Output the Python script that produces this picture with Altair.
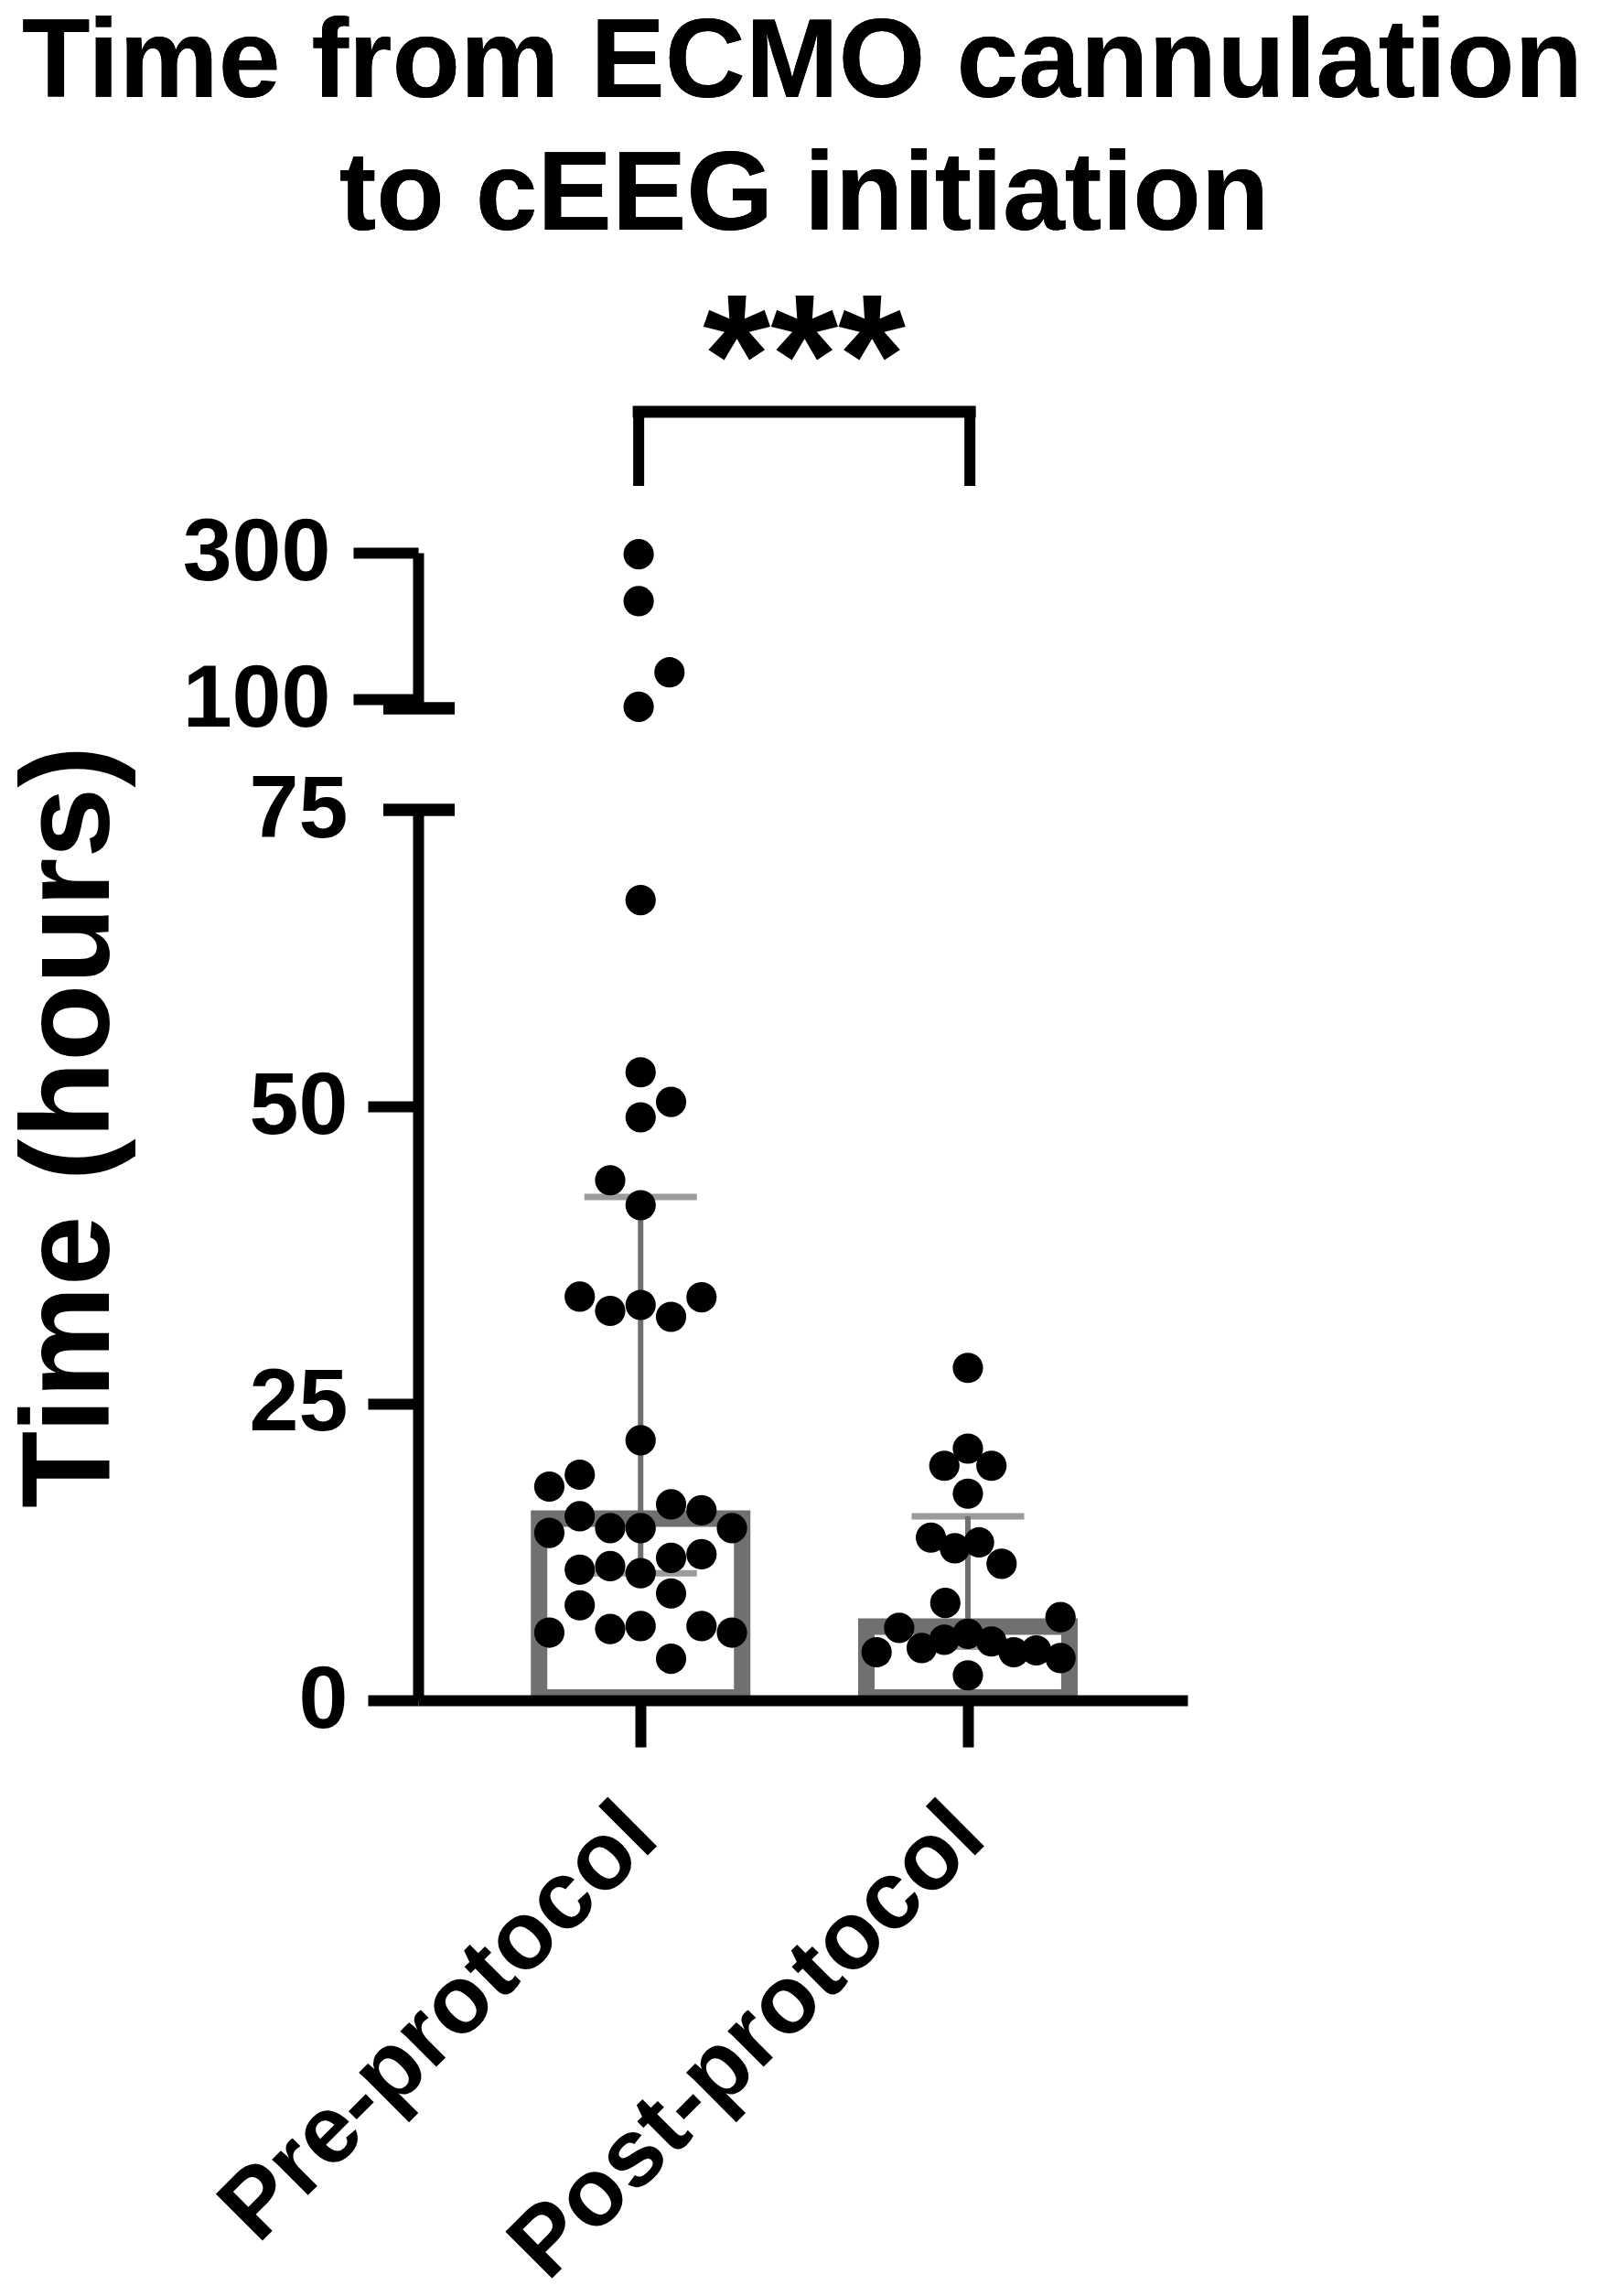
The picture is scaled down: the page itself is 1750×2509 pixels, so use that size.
import altair as alt
import pandas as pd

FONT = "Liberation Sans"
GRAY = "#707070"

GROUPS = ["Pre-protocol", "Post-protocol"]

PRE_VALUES = [298, 234, 137, 90, 67.4, 52.9, 50.4, 49.1, 43.8, 41.7,
              34.0, 32.8, 33.3, 32.3, 33.95, 21.9,
              18.0, 19.0, 14.1, 15.5, 14.5, 14.5, 16.5, 16.0, 14.5,
              11.0, 11.3, 10.7, 12.0, 12.3, 8.0, 9.0,
              5.7, 6.0, 6.25, 6.25, 5.7, 3.5]
PRE_JITTER = [0, 0, 0.093, 0, 0, 0, 0.093, 0, -0.093, 0,
              -0.186, -0.093, 0, 0.093, 0.186, 0,
              -0.279, -0.186, -0.279, -0.186, -0.093, 0, 0.093, 0.186, 0.279,
              -0.186, -0.093, 0, 0.093, 0.186, -0.186, 0.093,
              -0.279, -0.093, 0, 0.186, 0.279, 0.093]
POST_VALUES = [28.0, 21.2, 19.75, 19.75, 17.4, 13.7, 12.8, 13.3, 11.5, 8.2,
               6.1, 4.05, 4.4, 5.1, 5.6, 4.95, 4.05, 4.2, 7.0, 3.55, 2.1]
POST_JITTER = [0, 0, -0.072, 0.072, 0, -0.113, -0.04, 0.034, 0.103, -0.069,
               -0.21, -0.279, -0.141, -0.072, 0, 0.072, 0.14, 0.209, 0.283, 0.283, 0]

MEDIAN = [16.0, 6.9]
Q1 = [10.7, 4.5]
Q3 = [42.4, 15.5]

LOWER_TICKS = [0, 25, 50, 75]
UPPER_TICKS = [100, 300]
LOWER_DOMAIN = [0, 75]
UPPER_DOMAIN = [88, 300]
X_DOMAIN = [0.334, 2.657]

TITLE_LINES = ["Time from ECMO cannulation", "to cEEG initiation"]
SIG_TEXT = "***"

# ---- tables built from the arrays ----
rows = []
for gi, (vals, jit) in enumerate([(PRE_VALUES, PRE_JITTER), (POST_VALUES, POST_JITTER)]):
    for v, j in zip(vals, jit):
        rows.append({"group": GROUPS[gi], "pos": gi + 1 + j, "v": v})
points = pd.DataFrame(rows)

summary = pd.DataFrame({
    "group": GROUPS,
    "pos": [1, 2],
    "median": MEDIAN,
    "q1": Q1,
    "q3": Q3,
})

bracket = pd.DataFrame({"x1": [1], "x2": [2], "label": [SIG_TEXT]})
bracket_legs = pd.DataFrame({"x": [1, 2]})

label_expr = "[" + ",".join("'" + g + "'" for g in GROUPS) + "][datum.value - 1]"

x_scale = alt.Scale(domain=X_DOMAIN, nice=False, zero=False)

W = 841
H_LOW = 973
H_UP = 170
DOT = 1100

# ---------------- lower panel ----------------
x_low = alt.X(
    "pos:Q", scale=x_scale,
    axis=alt.Axis(
        values=[1, 2], labelExpr=label_expr, title=None, grid=False,
        domainColor="black", domainWidth=12, tickColor="black", tickWidth=12,
        tickSize=51, labelAngle=-45, labelAlign="right", labelBaseline="middle",
        labelFont=FONT, labelFontSize=105, labelFontWeight="bold", labelColor="black",
        labelPadding=80, labelOverlap=False, labelBound=False, labelFlush=False,
        labelLimit=0, zindex=1,
    ),
)
y_low_scale = alt.Scale(domain=LOWER_DOMAIN, nice=False, zero=False)
y_low_axis = alt.Axis(
    values=LOWER_TICKS, grid=False, title="Time (hours)",
    domainColor="black", domainWidth=12, tickColor="black", tickWidth=12,
    tickSize=55, tickOpacity={"condition": {"test": "datum.value === 75", "value": 0}, "value": 1},
    labelFont=FONT, labelFontSize=97, labelFontWeight="bold", labelColor="black",
    labelPadding=22, labelFlush=False, labelOverlap=False,
    titleFont=FONT, titleFontSize=138, titleFontWeight="bold", titleColor="black",
    titleY=346, titleAlign="center", titleAngle=270, titlePadding=125,
    zindex=1,
)

bars = alt.Chart(summary).mark_bar(
    width=222, fill="white", stroke=GRAY, strokeWidth=18, yOffset=9, y2Offset=-3,
).encode(
    x=x_low,
    y=alt.Y("median:Q", scale=y_low_scale, axis=y_low_axis),
    y2=alt.datum(0),
)

err = alt.Chart(summary).mark_rule(color=GRAY, strokeWidth=6).encode(
    x="pos:Q", y="q1:Q", y2="q3:Q",
)
cap_hi = alt.Chart(summary).mark_tick(
    orient="horizontal", color=GRAY, thickness=7, size=123,
).encode(x="pos:Q", y="q3:Q")
cap_lo = alt.Chart(summary).mark_tick(
    orient="horizontal", color=GRAY, thickness=7, size=123,
).encode(x="pos:Q", y="q1:Q")

dots_low = alt.Chart(points).transform_filter(
    alt.datum.v <= LOWER_DOMAIN[1]
).mark_circle(size=DOT, color="black", opacity=1).encode(
    x="pos:Q", y="v:Q",
)

break_low = alt.Chart(summary).mark_rule(color="black", strokeWidth=13).encode(
    x=alt.value(-38), x2=alt.value(40), y=alt.datum(LOWER_DOMAIN[1]),
)

lower = alt.layer(bars, err, cap_hi, cap_lo, dots_low, break_low).properties(
    width=W, height=H_LOW
)

# ---------------- upper panel ----------------
y_up_scale = alt.Scale(domain=UPPER_DOMAIN, nice=False, zero=False)
y_up_axis = alt.Axis(
    values=UPPER_TICKS, grid=False, title=None,
    domainColor="black", domainWidth=12, tickColor="black", tickWidth=12,
    tickSize=71, labelFont=FONT, labelFontSize=97, labelFontWeight="bold",
    labelColor="black", labelPadding=25, labelFlush=False, labelOverlap=False,
    zindex=1,
)

dots_up = alt.Chart(points).transform_filter(
    alt.datum.v > LOWER_DOMAIN[1]
).mark_circle(size=DOT, color="black", opacity=1).encode(
    x=alt.X("pos:Q", scale=x_scale, axis=None),
    y=alt.Y("v:Q", scale=y_up_scale, axis=y_up_axis),
)

break_up = alt.Chart(summary).mark_rule(color="black", strokeWidth=13).encode(
    x=alt.value(-38), x2=alt.value(40), y=alt.datum(UPPER_DOMAIN[0]),
)

br_h = alt.Chart(bracket).mark_rule(color="black", strokeWidth=13, strokeCap="square").encode(
    x="x1:Q", x2="x2:Q", y=alt.value(-154),
)
br_v = alt.Chart(bracket_legs).mark_rule(color="black", strokeWidth=12).encode(
    x="x:Q", y=alt.value(-154), y2=alt.value(-73),
)
stars = alt.Chart(bracket).transform_calculate(
    mid="(datum.x1 + datum.x2) / 2"
).mark_text(
    font=FONT, fontSize=190, fontWeight="bold", color="black",
    align="center", baseline="alphabetic",
).encode(x="mid:Q", y=alt.value(-151), text="label:N")

title1 = alt.Chart(summary).mark_text(
    text=TITLE_LINES[0], font=FONT, fontSize=122, fontWeight="bold", color="black",
    align="center", baseline="alphabetic",
).encode(x=alt.value(420), y=alt.value(-498))
title2 = alt.Chart(summary).mark_text(
    text=TITLE_LINES[1], font=FONT, fontSize=122, fontWeight="bold", color="black",
    align="center", baseline="alphabetic",
).encode(x=alt.value(422), y=alt.value(-353))

upper = alt.layer(dots_up, break_up, br_h, br_v, stars, title1, title2).properties(
    width=W, height=H_UP
)

chart = alt.vconcat(upper, lower, spacing=111, bounds="flush").properties(
    padding={"left": 0, "top": 0, "right": 5, "bottom": 5},
    background="white",
).configure_view(strokeWidth=0, stroke=None)

chart.save("out.html", embed_options={"renderer": "svg", "actions": False})
